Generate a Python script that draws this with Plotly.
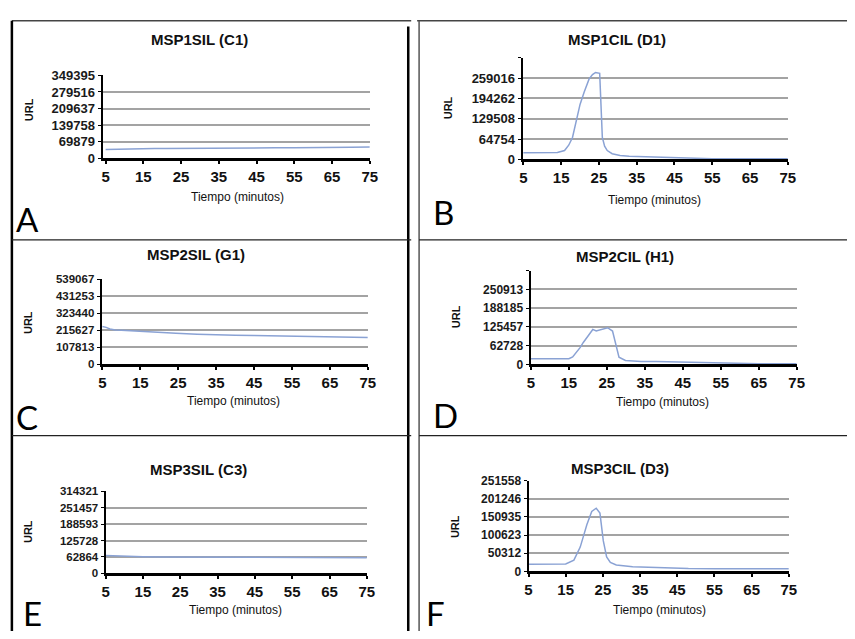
import plotly.graph_objects as go

W, H = 855, 639

# ---- data: time (minutes) and signal (URL) for each chromatogram ----
x_ticks = [5, 15, 25, 35, 45, 55, 65, 75]

t_c1 = [5, 7, 9, 12, 15, 18, 21, 24, 27, 30, 35, 40, 45, 50, 55, 60, 65, 70, 75]
v_c1 = [37000, 38000, 39500, 40500, 41000, 41500, 42000, 42500, 43500, 44000,
        44500, 45000, 44800, 44500, 45000, 46500, 47000, 47000, 47500]

t_d1 = [5, 8, 11, 14, 15.9, 17, 18, 19.3, 20, 21.1, 22.4, 23.3, 24.1, 25.2, 25.4,
        25.9, 26.5, 27.2, 28.5, 30.6, 33, 37.6, 43.4, 49, 55, 60, 65, 70, 75]
v_d1 = [21000, 21000, 21000, 21500, 28000, 45000, 69700, 142000, 175000, 214800,
        256500, 270000, 277000, 274000, 225000, 69700, 42000, 28000, 18000, 12500,
        9500, 7500, 6000, 3000, 2000, 1500, 1500, 1500, 1500]

t_g1 = [5, 6, 7, 8.4, 10, 12, 15.8, 20, 24.4, 30, 34.7, 40, 45, 50, 55.4, 60, 64.9, 70, 75]
v_g1 = [240000, 235000, 225000, 218500, 216000, 213000, 210200, 204000, 197700,
        192000, 187300, 185000, 183100, 181000, 179000, 177000, 174800, 172500, 170600]

t_h1 = [5, 9, 13, 15, 16, 17, 18, 18.8, 20, 21.3, 22.2, 23.5, 25.2, 26.5, 27.3,
        28.2, 29.9, 34, 38, 44, 50, 55, 60, 65, 70, 75]
v_h1 = [18700, 18700, 18700, 19000, 25000, 40700, 57000, 73500, 95000, 117000,
        111700, 116000, 122800, 111700, 73500, 24300, 13100, 9900, 9500, 8000,
        5000, 3000, 2000, 2000, 2000, 2000]

t_c3 = [5, 8, 10, 12, 15, 20, 25, 30, 35, 40, 45, 50, 55, 60, 65, 70, 75]
v_c3 = [68500, 68000, 67000, 65500, 64000, 63000, 62500, 62500, 62500, 62000,
        62000, 61500, 61500, 61000, 61000, 60500, 60000]

t_d3 = [5, 9, 13, 15, 17.2, 18.9, 20.7, 22, 23.2, 24.2, 25.1, 26, 27, 28.6, 33,
        38, 43, 48, 55, 60, 65, 70, 75]
v_d3 = [19700, 19700, 19700, 20500, 31300, 67400, 130000, 166000, 175000, 161700,
        85200, 40400, 25000, 17800, 13000, 11500, 9000, 8000, 7500, 7500, 7500,
        7500, 7500]

# y tick values / labels of each panel
y_c1 = [0, 69879, 139758, 209637, 279516, 349395]
y_d1 = [0, 64754, 129508, 194262, 259016, 323770]
y_g1 = [0, 107813, 215627, 323440, 431253, 539067]
y_h1 = [0, 62728, 125457, 188185, 250913, 313641]
y_c3 = [0, 62864, 125728, 188593, 251457, 314321]
y_d3 = [0, 50312, 100623, 150935, 201246, 251558]

panels = [
    dict(title="MSP1SIL (C1)", letter="A", t=t_c1, v=v_c1, yt=y_c1, top_label=True,
         box=(100, 371, 70, 155), x0=4.2, yfs=13,
         title_xy=(198, 33), url_xy=(25, 105), xt_xy=(237, 195), let_xy=(10, 217)),
    dict(title="MSP1CIL (D1)", letter="B", t=t_d1, v=v_d1, yt=y_d1, top_label=False,
         box=(526, 795, 52, 156), x0=4.8, yfs=13,
         title_xy=(622, 33), url_xy=(450, 103), xt_xy=(660, 198), let_xy=(433, 210)),
    dict(title="MSP2SIL (G1)", letter="C", t=t_g1, v=v_g1, yt=y_g1, top_label=True,
         box=(99, 369, 279, 366), x0=4.8, yfs=11.5,
         title_xy=(195, 253), url_xy=(25, 323), xt_xy=(233, 403), let_xy=(10, 420)),
    dict(title="MSP2CIL (H1)", letter="D", t=t_h1, v=v_h1, yt=y_h1, top_label=False,
         box=(534, 804, 270, 366), x0=4.9, yfs=12,
         title_xy=(630, 255), url_xy=(458, 317), xt_xy=(668, 404), let_xy=(433, 418)),
    dict(title="MSP3SIL (C3)", letter="E", t=t_c3, v=v_c3, yt=y_c3, top_label=True,
         box=(103, 368, 496, 580), x0=5.0, yfs=11.5,
         title_xy=(197, 474), url_xy=(25, 537), xt_xy=(235, 617), let_xy=(17, 621)),
    dict(title="MSP3CIL (D3)", letter="F", t=t_d3, v=v_d3, yt=y_d3, top_label=True,
         box=(532, 796, 485, 578), x0=5.0, yfs=12,
         title_xy=(625, 473), url_xy=(457, 532), xt_xy=(665, 617), let_xy=(426, 621)),
]

LINE = "#8aa2d4"
GRID = "#a3a3a3"
FONT = "Liberation Sans, Arial, sans-serif"


def px(x):
    return x / W


def py(y):
    return 1 - y / H


fig = go.Figure()
annotations = []


def label(x, y, text, size, angle=0, family=FONT, xanchor="center", color="#111"):
    annotations.append(dict(x=px(x), y=py(y), xref="paper", yref="paper",
                            xanchor=xanchor, yanchor="middle", text=text,
                            textangle=angle, showarrow=False,
                            font=dict(family=family, size=size, color=color)))


for i, p in enumerate(panels, start=1):
    sfx = "" if i == 1 else str(i)
    x0, x1, yt, yb = p["box"]
    fig.add_trace(go.Scatter(
        x=p["t"], y=p["v"], mode="lines",
        line=dict(color=LINE, width=1.5),
        xaxis="x" + sfx, yaxis="y" + sfx, showlegend=False, hoverinfo="skip",
    ))
    ticktext = [str(v) for v in p["yt"]]
    if not p["top_label"]:
        ticktext[-1] = ""
    fig.update_layout(**{
        "xaxis" + sfx: dict(
            domain=[px(x0), px(x1)], range=[p["x0"], 75], anchor="y" + sfx,
            tickvals=x_ticks, ticks="outside", ticklen=3, tickwidth=1.5,
            tickcolor="black", showline=True, linecolor="black", linewidth=2.5,
            showgrid=False, zeroline=False,
            tickfont=dict(family=FONT, size=15, color="#111", weight="bold"),
        ),
        "yaxis" + sfx: dict(
            domain=[py(yb), py(yt)], range=[0, p["yt"][-1]], anchor="x" + sfx,
            tickvals=p["yt"], ticktext=ticktext, ticks="outside", ticklen=3,
            tickcolor="black", showline=True, linecolor="black", linewidth=2,
            showgrid=True, gridcolor=GRID, gridwidth=1.5, zeroline=False,
            tickfont=dict(family=FONT, size=p["yfs"], color="#1a1a1a", weight="bold"),
        ),
    })
    label(*p["title_xy"], f"<b>{p['title']}</b>", 15)
    label(*p["url_xy"], "<b>URL</b>", 11, angle=-90)
    label(*p["xt_xy"], "Tiempo (minutos)", 12)
    label(*p["let_xy"], p["letter"], 33, family="Lato, sans-serif",
          xanchor="left", color="black")

# frame lines around the six panels
shapes = []


def seg(xa, ya, xb, yb, color="black", width=1.5):
    shapes.append(dict(type="line", xref="paper", yref="paper",
                       x0=px(xa), y0=py(ya), x1=px(xb), y1=py(yb),
                       line=dict(color=color, width=width)))


seg(8, 14, 413, 14, "#444", 1.5)
seg(419, 14, 855, 14, "#444", 1.5)
seg(8, 14, 8, 639, "black", 2.5)
seg(410, 20, 410, 639, "black", 2.5)
seg(421, 14, 421, 639, "#555", 1.5)
for yy in (238.5, 439):
    seg(8, yy, 413, yy, "#222", 1.2)
    seg(421, yy, 855, yy, "#222", 1.2)

fig.update_layout(
    width=W, height=H, margin=dict(l=0, r=0, t=0, b=0),
    paper_bgcolor="white", plot_bgcolor="white",
    annotations=annotations, shapes=shapes,
)

fig.write_html("out.html")
